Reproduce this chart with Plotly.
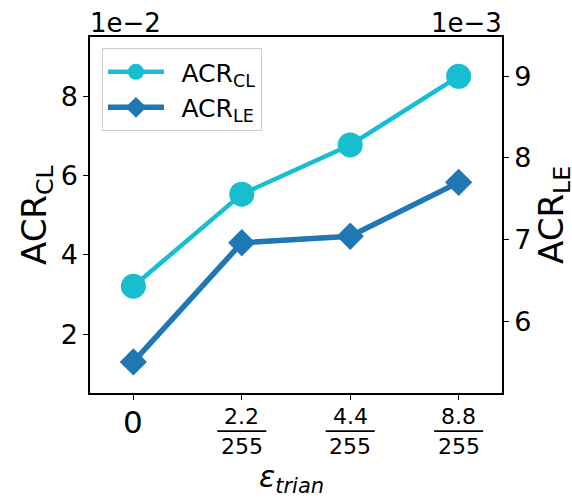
import plotly.graph_objects as go

# ---- data ----
x_labels = ["0", "2.2/255", "4.4/255", "8.8/255"]
x_num = ["0", "2.2", "4.4", "8.8"]
x_den = ["", "255", "255", "255"]
acr_cl = [0.0321, 0.0553, 0.0677, 0.0850]      # left axis (x1e-2)
acr_le = [0.00550, 0.00696, 0.00704, 0.00770]  # right axis (x1e-3)
cl_ticks = [0.02, 0.04, 0.06, 0.08]
cl_ticktext = ["2", "4", "6", "8"]
le_ticks = [0.006, 0.007, 0.008, 0.009]
le_ticktext = ["6", "7", "8", "9"]

C_CL = "#17becf"
C_LE = "#1f77b4"
FONT = "DejaVu Sans"

fig = go.Figure()
fig.add_trace(go.Scatter(
    x=x_labels, y=acr_cl, name="\u2002ACR<sub>CL</sub>", mode="lines+markers",
    line=dict(color=C_CL, width=4.5), marker=dict(symbol="circle", size=25, color=C_CL),
    yaxis="y"))
fig.add_trace(go.Scatter(
    x=x_labels, y=acr_le, name="\u2002ACR<sub>LE</sub>", mode="lines+markers",
    line=dict(color=C_LE, width=5.5), marker=dict(symbol="diamond", size=21, color=C_LE),
    yaxis="y2"))

axis_common = dict(showline=True, linecolor="black", linewidth=1.5, ticks="outside",
                   ticklen=5, tickwidth=1.3, tickcolor="black", showgrid=False, zeroline=False,
                   tickfont=dict(family=FONT, size=27, color="black"))

fig.update_layout(
    width=572, height=500,
    margin=dict(l=90, r=70, t=37, b=107),
    plot_bgcolor="white", paper_bgcolor="white",
    font=dict(family=FONT, color="black"),
    showlegend=True,
    legend=dict(x=0.029, y=0.969, xanchor="left", yanchor="top",
                bgcolor="rgba(255,255,255,0.8)", bordercolor="#cccccc", borderwidth=1,
                font=dict(family=FONT, size=25, color="black"), itemwidth=56),
    xaxis=dict(type="category", range=[-0.4, 3.4], mirror=True, showticklabels=False,
               **axis_common),
    yaxis=dict(range=[0.0052, 0.0949], tickvals=cl_ticks, ticktext=cl_ticktext, mirror=True,
               **axis_common),
    yaxis2=dict(range=[0.00512, 0.00948], tickvals=le_ticks, ticktext=le_ticktext,
                overlaying="y", side="right", **axis_common),
)

annotations = []
shapes = []
for i, (num, den) in enumerate(zip(x_num, x_den)):
    if den == "":
        annotations.append(dict(x=i, y=-0.0815, xref="x", yref="paper", text=num,
                                showarrow=False, xanchor="center", yanchor="middle",
                                font=dict(family=FONT, size=31, color="black")))
    else:
        annotations.append(dict(x=i, y=-0.067, xref="x", yref="paper", text=num,
                                showarrow=False, xanchor="center", yanchor="middle",
                                font=dict(family=FONT, size=22, color="black")))
        annotations.append(dict(x=i, y=-0.149, xref="x", yref="paper", text=den,
                                showarrow=False, xanchor="center", yanchor="middle",
                                font=dict(family=FONT, size=22, color="black")))
        shapes.append(dict(type="line", xref="x", yref="paper", x0=i - 0.226, x1=i + 0.226,
                           y0=-0.107, y1=-0.107, line=dict(color="black", width=1.6)))

# axis titles
annotations.append(dict(x=0.5, y=-0.24, xref="paper", yref="paper",
                        text="<i>ε</i><sub><i>trian</i></sub>", showarrow=False,
                        xanchor="center", yanchor="middle", xshift=-5,
                        font=dict(family=FONT, size=30, color="black")))
annotations.append(dict(x=-0.131, y=0.5, xref="paper", yref="paper", text="ACR<sub>CL</sub>",
                        textangle=-90, showarrow=False, xanchor="center", yanchor="middle",
                        font=dict(family=FONT, size=34, color="black")))
annotations.append(dict(x=1.131, y=0.5, xref="paper", yref="paper", text="ACR<sub>LE</sub>",
                        textangle=-90, showarrow=False, xanchor="center", yanchor="middle",
                        xshift=-3,
                        font=dict(family=FONT, size=34, color="black")))
# offset texts
annotations.append(dict(x=0, y=1, xref="paper", yref="paper", text="1e−2", showarrow=False,
                        xanchor="left", yanchor="bottom", xshift=-2, yshift=-3,
                        font=dict(family=FONT, size=26, color="black")))
annotations.append(dict(x=1, y=1, xref="paper", yref="paper", text="1e−3", showarrow=False,
                        xanchor="right", yanchor="bottom", xshift=2, yshift=-3,
                        font=dict(family=FONT, size=26, color="black")))

fig.update_layout(annotations=annotations, shapes=shapes)
fig.write_html("out.html", config={"displayModeBar": False},
               post_script="document.body.style.margin='0';")
